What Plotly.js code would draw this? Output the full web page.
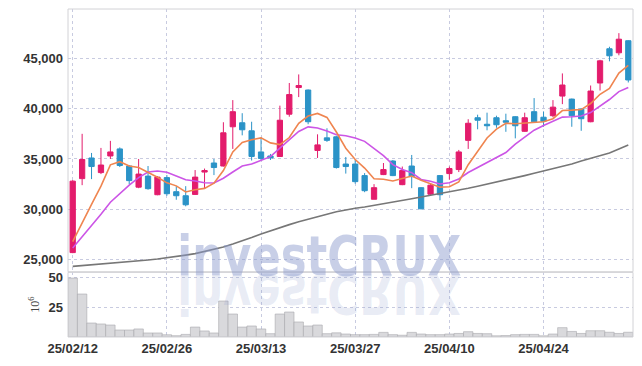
<!DOCTYPE html>
<html><head><meta charset="utf-8">
<script src="https://cdn.plot.ly/plotly-3.0.1.min.js"></script>
<style>html,body{margin:0;padding:0;background:#fff}#chart{width:642px;height:366px}</style>
</head><body><div id="chart"></div>
<script>
const dates=['25/02/12','25/02/13','25/02/14','25/02/17','25/02/18','25/02/19','25/02/20','25/02/21','25/02/24','25/02/25',
'25/02/26','25/02/27','25/02/28','25/03/04','25/03/05','25/03/06','25/03/07','25/03/10','25/03/11','25/03/12',
'25/03/13','25/03/14','25/03/17','25/03/18','25/03/19','25/03/20','25/03/21','25/03/24','25/03/25','25/03/26',
'25/03/27','25/03/28','25/03/31','25/04/01','25/04/02','25/04/03','25/04/04','25/04/07','25/04/08','25/04/09',
'25/04/10','25/04/11','25/04/14','25/04/15','25/04/16','25/04/17','25/04/18','25/04/21','25/04/22','25/04/23',
'25/04/24','25/04/25','25/04/28','25/04/29','25/04/30','25/05/02','25/05/07','25/05/08','25/05/09','25/05/12'];
const tickDates=['25/02/12','25/02/26','25/03/13','25/03/27','25/04/10','25/04/24'];
const openP=[25700,33050,35100,33650,35300,36000,34300,32200,33300,31450,
33150,31750,31350,31480,33700,34600,34300,38200,38600,37800,
35700,35300,35250,39450,42100,41850,35850,37100,37200,34500,
34500,33350,31000,33450,34800,32450,34300,32150,31500,33350,
33550,33950,36850,39100,38450,39100,38800,39200,37750,39700,
39150,39300,41250,40950,39950,38700,42550,45950,45550,46750];
const highP=[32900,37500,35600,36100,36800,36150,34400,35000,34300,33300,
33400,32300,32300,33900,34050,35000,38650,40850,39550,38700,
37150,35500,40300,42550,43400,41900,37450,38050,37300,35200,
34900,33600,32500,34600,34900,34250,35400,32200,32600,33400,
34250,35900,38950,39400,39600,39300,39500,39250,39600,41050,
39700,40850,43500,41000,40050,42300,44850,46150,47500,46800];
const lowP=[25650,32400,33000,33500,35000,34200,32500,32100,31950,31400,
31350,30950,30300,31450,32050,33400,34250,36000,37350,34850,
34900,34900,35200,39200,41150,38450,35100,36700,34050,33550,
32550,31700,31000,33400,33300,32400,32100,30000,31350,30900,
32950,33700,36000,37950,37850,38100,37700,37050,37700,38650,
38200,39150,40450,38200,37800,38650,41800,44700,45300,42600];
const closeP=[32800,34950,34250,34400,35700,34350,32850,33500,32050,33200,
31550,31350,30450,33200,33850,34150,37600,39700,37900,35250,
35050,35100,38850,41400,42300,38700,36400,36850,34150,34250,
32750,31850,32150,33950,33350,33850,33250,30050,32400,31450,
34050,35700,38550,38850,38300,38400,38650,38300,39100,38700,
38750,40150,42350,39300,39000,41750,44750,45250,46900,42850];
const ma5=[26800,28700,30500,32300,34420,34730,34310,34160,33690,33190,
32630,32330,31720,31950,32080,32600,33850,35700,36640,36920,
37100,36600,36430,37130,38540,39270,39530,39130,37680,36070,
34950,34100,33030,32990,32810,33030,33310,32890,32580,32200,
32240,32730,34430,35720,37090,37960,38550,38500,38550,38630,
38700,39000,39810,39850,39910,40510,41430,42010,43530,44300];
const ma10=[26160,27250,28300,29500,30700,31600,32400,33150,33700,33800,
33680,33320,32940,32820,32640,32620,33090,33710,34300,34500,
34850,35230,36070,36890,37730,38190,38070,37780,37410,37310,
37080,36750,36080,35340,34440,33960,33640,32960,32790,32510,
32640,33020,33660,34150,34650,35100,35640,36470,37140,37860,
38330,38780,39160,39200,39270,39610,40220,40910,41690,42110];
const ma60=[24330,24400,24470,24540,24620,24700,24780,24870,24960,25060,
25170,25300,25450,25600,25800,26000,26250,26550,26850,27200,
27550,27880,28200,28480,28760,29030,29280,29520,29750,29950,
30100,30230,30380,30540,30700,30880,31050,31230,31400,31550,
31700,31900,32100,32300,32500,32700,32900,33100,33350,33580,
33800,34000,34250,34500,34800,35050,35300,35600,36000,36400];
const volume=[49.8,36.3,11.8,11.0,10.1,5.9,5.9,6.8,3.4,3.4,
1.9,1.1,2.2,8.4,5.1,3.4,30.4,19.4,8.4,9.3,
6.8,2.8,19.4,21.1,12.7,9.3,10.1,2.8,3.5,2.5,
2.0,2.0,2.2,3.9,2.0,1.5,3.9,2.5,2.0,2.0,
2.5,3.0,4.5,3.0,2.8,1.0,1.2,2.0,2.2,2.2,
1.0,2.5,7.9,4.7,3.0,5.3,5.3,4.0,3.0,4.0];
const priceTicks=[25000,30000,35000,40000,45000];
const volTicks=[25,50];
const watermark='investCRUX';

const RED='#e31c6c', BLUE='#2b93c7', GRID='#c8cbe0';
const tickFont={family:'Liberation Sans, Arial, sans-serif',size:13,color:'#333',weight:'bold'};
const wmFont='DejaVu Sans, Liberation Sans, Arial, sans-serif';
const traces=[
 {type:'candlestick',x:dates,open:openP,high:highP,low:lowP,close:closeP,xaxis:'x',yaxis:'y',
  increasing:{line:{color:RED,width:1},fillcolor:RED},decreasing:{line:{color:BLUE,width:1},fillcolor:BLUE},
  whiskerwidth:0,showlegend:false,hoverinfo:'skip'},
 {type:'scatter',mode:'lines',x:dates,y:ma60,xaxis:'x',yaxis:'y',line:{color:'#777',width:1.6},hoverinfo:'skip'},
 {type:'scatter',mode:'lines',x:dates,y:ma10,xaxis:'x',yaxis:'y',line:{color:'#cc55e6',width:1.6},hoverinfo:'skip'},
 {type:'scatter',mode:'lines',x:dates,y:ma5,xaxis:'x',yaxis:'y',line:{color:'#ef8550',width:1.6},hoverinfo:'skip'},
 {type:'bar',x:dates,y:volume,xaxis:'x',yaxis:'y2',marker:{color:'#d9d9dc',line:{color:'#a8a8ad',width:0.6}},hoverinfo:'skip'}
];
const layout={
 width:642,height:366,margin:{l:68,r:9,t:9,b:29},paper_bgcolor:'#fff',plot_bgcolor:'#fff',
 showlegend:false,bargap:0,boxgap:0.2,
 xaxis:{type:'category',range:[-0.5,59.5],anchor:'y2',tickmode:'array',tickvals:tickDates,ticktext:tickDates,
  showgrid:true,gridcolor:GRID,griddash:'dot',gridwidth:1,ticks:'',tickfont:tickFont,ticklabelstandoff:2,
  rangeslider:{visible:false},zeroline:false,showline:false,fixedrange:true},
 yaxis:{domain:[0.199,1],range:[23800,49900],tickmode:'array',tickvals:priceTicks,tickformat:',d',
  showgrid:true,gridcolor:GRID,griddash:'dot',ticks:'',tickfont:tickFont,zeroline:false,anchor:'x',ticklabelstandoff:4},
 yaxis2:{domain:[0,0.197],range:[0,54.6],tickmode:'array',tickvals:volTicks,
  showgrid:true,gridcolor:GRID,griddash:'dot',ticks:'',tickfont:tickFont,zeroline:false,anchor:'x',ticklabelstandoff:4,
  title:{text:'10<sup>6</sup>',font:{family:'Liberation Serif, serif',size:12,color:'#444'},standoff:6}},
 shapes:[
  {type:'rect',xref:'paper',yref:'paper',x0:0,x1:1,y0:0.199,y1:1,line:{color:'#d2d2d6',width:1}},
  {type:'rect',xref:'paper',yref:'paper',x0:0,x1:1,y0:0,y1:0.197,line:{color:'#d2d2d6',width:1}}
 ],
 annotations:[
  {text:watermark,xref:'paper',yref:'paper',x:0.446,y:0.143,xanchor:'center',yanchor:'bottom',showarrow:false,
   font:{family:wmFont,size:56,color:'rgba(140,155,205,0.48)',weight:'bold'}},
  {text:watermark,xref:'paper',yref:'paper',x:0.446,y:0.143,xanchor:'center',yanchor:'bottom',showarrow:false,
   font:{family:wmFont,size:56,color:'rgba(140,155,205,0.2)',weight:'bold'}}
 ]
};
Plotly.newPlot('chart',traces,layout,{displayModeBar:false,staticPlot:true}).then(function(gd){
  const anns=gd.querySelectorAll('.annotation-text');
  anns.forEach(function(t){
    t.setAttribute('textLength','284');
    t.setAttribute('lengthAdjust','spacingAndGlyphs');
  });
  if(anns.length>1){
    const t=anns[1];
    const b=t.getBBox();
    const base=b.y+b.height*0.78;
    const ex=t.getAttribute('transform')||'';
    t.setAttribute('transform','matrix(1,0,0,-1,0,'+(2*base+3)+') '+ex);
  }
});
</script></body></html>
